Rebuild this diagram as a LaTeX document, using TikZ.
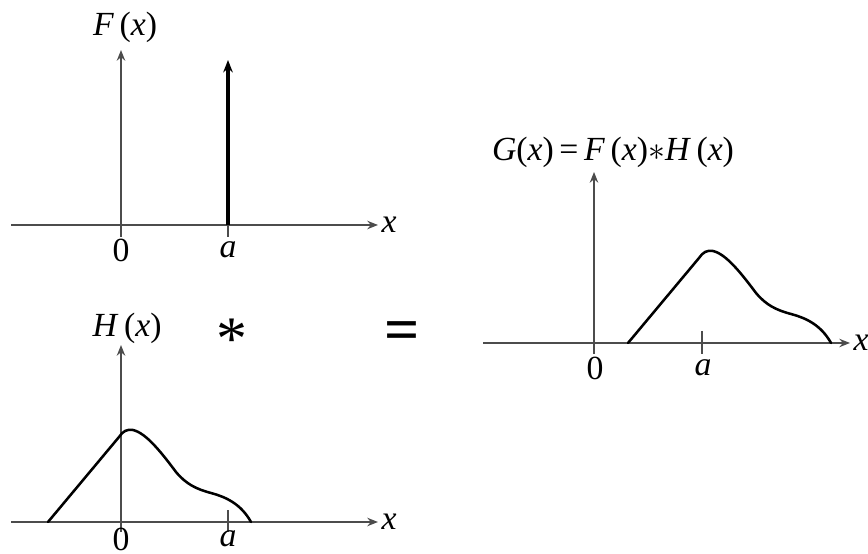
\documentclass[tikz,border=0pt]{standalone}
\usepackage{fontspec}
\setmainfont{Liberation Serif}
\usetikzlibrary{arrows.meta}

\tikzset{
    hcurve/.pic={
        \draw[curve] (-73,0) -- (-2,-85) .. controls (2,-91) and (6,-93) .. (12,-92)
            .. controls (25,-89) and (40,-70) .. (55,-50)
            .. controls (65,-38) and (75,-33) .. (90,-29)
            .. controls (105,-25) and (120,-18) .. (130,0);
    }
}

\begin{document}
\begin{tikzpicture}[
    x={(0.0125cm,0)}, y={(0,-0.0125cm)},
    axis/.style={draw=black!70, line width=0.5pt, -{Stealth[length=3.8pt,width=3pt]}},
    tick/.style={draw=black!70, line width=0.5pt},
    curve/.style={line width=0.9pt, line join=round, line cap=round},
    impulse/.style={line width=1.1pt, -{Stealth[length=4.4pt,width=3.4pt]}},
    lbl/.style={font=\fontsize{12}{14}\selectfont, inner sep=1pt},
    op/.style={font=\fontsize{22}{22}\selectfont, inner sep=0pt},
]
\useasboundingbox (0,0) rectangle (868,554);

% Top: F(x), an impulse at a
\coordinate (o1) at (121,225);
\coordinate (a1) at (228,225);
\draw[axis] (11,225) -- (378,225) node[right, lbl] (x1) {\textit{x}};
\draw[axis] (121,237) -- (121,50);
\draw[tick] (a1) -- (228,237);
\draw[impulse] (a1) -- (228,60);
\node[lbl] (flabel) at (125,27) {\textit{F}\,(\textit{x})};
\node[lbl] (zero1) at (121,250) {0};
\node[lbl] (alab1) at (228,250) {\textit{a}};

% Bottom: H(x)
\coordinate (o2) at (121,522);
\draw[axis] (11,522) -- (378,522) node[right, lbl] (x2) {\textit{x}};
\draw[axis] (121,532) -- (121,345);
\draw[tick] (228,510) -- (228,532);
\pic at (o2) {hcurve};
\node[lbl] (hlabel) at (127,328) {\textit{H}\,(\textit{x})};
\node[lbl] (zero2) at (121,539) {0};
\node[lbl] (alab2) at (228,539) {\textit{a}};

% Operators
\node[op] (star) at (232,339) {*};
\node[op, font=\fontsize{22}{22}\selectfont\bfseries] (equal) at (402,336) {=};

% Right: G(x), H shifted by a
\coordinate (o3) at (594,343);
\coordinate (a3) at (701,343);
\draw[axis] (483,343) -- (850,343) node[right, lbl] (x3) {\textit{x}};
\draw[axis] (594,354) -- (594,172);
\draw[tick] (702,331) -- (702,354);
\pic at (a3) {hcurve};
\node[lbl] (glabel) at (613,152) {\textit{G}(\textit{x})\,=\,\textit{F}\,(\textit{x})$\ast$\textit{H}\,(\textit{x})};
\node[lbl] (zero3) at (595,368) {0};
\node[lbl] (alab3) at (703,368) {\textit{a}};

\end{tikzpicture}
\end{document}
